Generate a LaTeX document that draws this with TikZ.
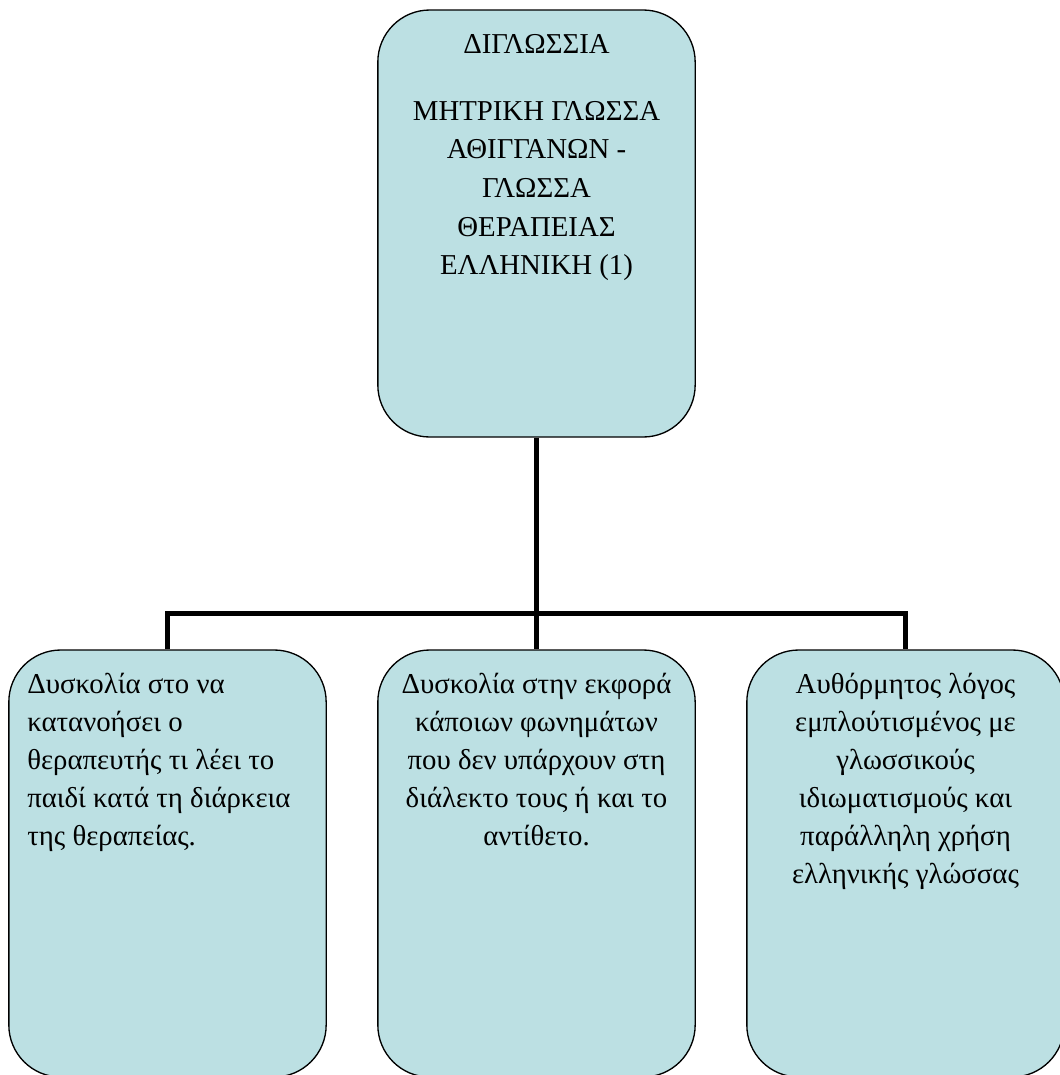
\documentclass[tikz,border=0pt]{standalone}
\usepackage{fontspec}
\setmainfont{Liberation Serif}
\definecolor{boxfill}{RGB}{188,224,227}
\begin{document}
\begin{tikzpicture}[x=0.75pt,y=-0.75pt,
  box/.style={draw=black, line width=1pt, fill=boxfill, rounded corners=39pt,
    minimum width=238pt, minimum height=320.25pt, inner sep=0pt},
  conn/.style={draw=black, line width=4.2pt},
  txt/.style={inner sep=0pt, anchor=north, font=\fontsize{21.6pt}{28.5pt}\selectfont},
  toptxt/.style={inner sep=0pt, anchor=north, align=center, font=\fontsize{21.6pt}{29pt}\selectfont}]
\useasboundingbox (0,0) rectangle (1060,1075);
\clip (0,0) rectangle (1060,1075);
% boxes
\node[box] (top) at (536.5,223.5) {};
\node[box] (left) at (167.5,863.5) {};
\node[box] (mid) at (536.5,863.5) {};
\node[box] (right) at (905.5,863.5) {};
% connectors
\draw[conn] (top.south) -- (mid.north);
\draw[conn] (left.north) -- ++(0,-36) -| (right.north);
% texts
\node[toptxt] (t0) at (536.5,25.9) {\strut ΔΙΓΛΩΣΣΙΑ\\[21.2pt]
ΜΗΤΡΙΚΗ ΓΛΩΣΣΑ\\ ΑΘΙΓΓΑΝΩΝ -\\ ΓΛΩΣΣΑ\\ ΘΕΡΑΠΕΙΑΣ\\ ΕΛΛΗΝΙΚΗ (1)};
\node[txt, align=left, anchor=north west] (t1) at (27,666.4) {\strut Δυσκολία στο να\\ κατανοήσει ο\\ θεραπευτής τι λέει το\\ παιδί κατά τη διάρκεια\\ της θεραπείας.};
\node[txt, align=center] (t2) at (536.5,666.4) {\strut Δυσκολία στην εκφορά\\ κάποιων φωνημάτων\\ που δεν υπάρχουν στη\\ διάλεκτο τους ή και το\\ αντίθετο.};
\node[txt, align=center] (t3) at (905.5,666.4) {\strut Αυθόρμητος λόγος\\ εμπλούτισμένος με\\ γλωσσικούς\\ ιδιωματισμούς και\\ παράλληλη χρήση\\ ελληνικής γλώσσας};
\end{tikzpicture}
\end{document}
